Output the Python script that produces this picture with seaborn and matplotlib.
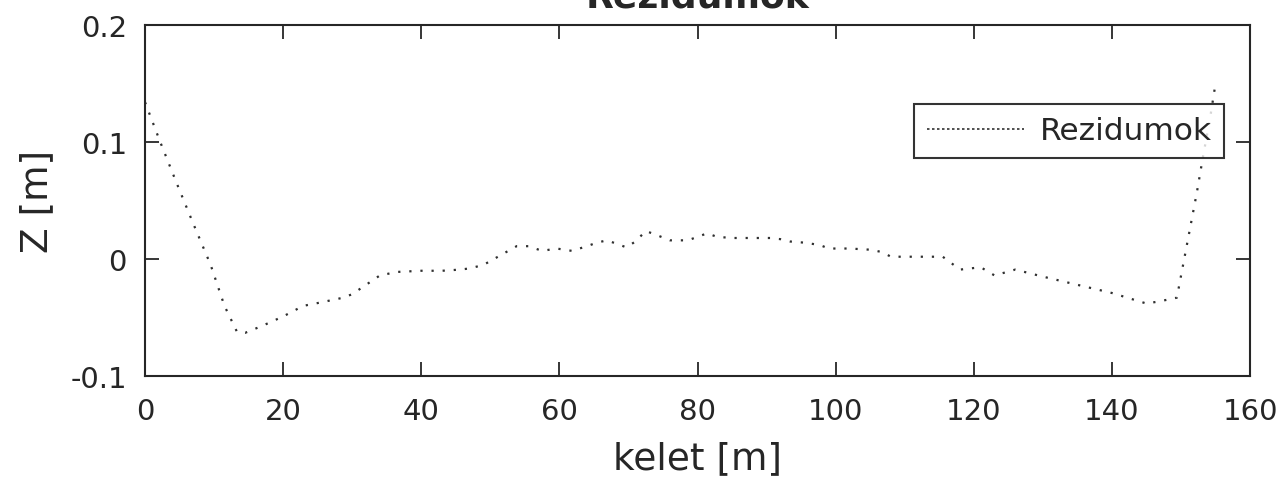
import numpy as np
import pandas as pd
import matplotlib
matplotlib.use('Agg')
import matplotlib.pyplot as plt
import seaborn as sns

# residual profile
kelet = [0, 2.2, 4.5, 7, 9.5, 11.5, 13.3, 14.5, 17, 20, 22.9, 25.5, 28.7, 30, 32,
         34, 36.5, 40, 43, 45.6, 47, 49, 51.4, 53.8, 55.5, 57.5, 59.6, 61.8,
         64, 65.4, 66.9, 68.3, 69.7, 71, 72.5, 74.3, 76, 78.6, 80, 81.4, 82.8,
         85, 88, 90.5, 92, 93.4, 95.5, 97.7, 99, 102, 105, 106.7, 108, 111,
         115.5, 118, 121, 123, 126, 130, 135, 140, 145, 147, 149.4, 150.3,
         151.3, 152.3, 153.2, 154.2, 155]
rezidum = [0.134, 0.1, 0.066, 0.03, -0.005, -0.04, -0.062, -0.063, -0.057, -0.049,
           -0.04, -0.037, -0.033, -0.03, -0.022, -0.014, -0.011, -0.01, -0.01,
           -0.009, -0.008, -0.005, 0.003, 0.011, 0.011, 0.007, 0.009, 0.007,
           0.011, 0.014, 0.016, 0.013, 0.010, 0.015, 0.024, 0.020, 0.016, 0.016,
           0.019, 0.022, 0.019, 0.018, 0.018, 0.018, 0.017, 0.015, 0.014, 0.012,
           0.009, 0.009, 0.008, 0.006, 0.002, 0.002, 0.002, -0.009, -0.007,
           -0.014, -0.009, -0.015, -0.022, -0.029, -0.038, -0.036, -0.033,
           -0.005, 0.026, 0.057, 0.088, 0.12, 0.15]

df = pd.DataFrame({'kelet': kelet, 'Rezidumok': rezidum})

sns.set_style('ticks')
plt.rcParams['font.family'] = ['DejaVu Sans']

fig = plt.figure(figsize=(12.87, 4.81), dpi=100)
ax = fig.add_axes([0.1127, 0.216, 0.8586, 0.730])

sns.lineplot(data=df, x='kelet', y='Rezidumok', ax=ax, color='#303030',
             linestyle=(0, (1, 4)), linewidth=1.6, label='Rezidumok')

ax.set_xlim(0, 160)
ax.set_ylim(-0.1, 0.2)
ax.set_xticks(np.arange(0, 161, 20))
ax.set_yticks([-0.1, 0, 0.1, 0.2])
ax.set_yticklabels(['-0.1', '0', '0.1', '0.2'])
ax.tick_params(direction='in', length=10, width=1.3, top=True, right=True,
               labelsize=21, colors='#262626')
ax.tick_params(axis='x', pad=15)
ax.tick_params(axis='y', pad=13)
for s in ax.spines.values():
    s.set_linewidth(1.5)
    s.set_color('#262626')

ax.set_xlabel('kelet [m]', fontsize=27, color='#262626', labelpad=11)
ax.set_ylabel('Z [m]', fontsize=27, color='#262626', labelpad=11)
ax.set_title('Rezidumok', fontsize=26, fontweight='bold', pad=13)

leg = ax.legend(loc='upper right', bbox_to_anchor=(0.9765, 0.775), fontsize=22.5,
                frameon=True, fancybox=False, handlelength=3.1,
                borderpad=0.4, handletextpad=0.5, borderaxespad=0)
leg.get_frame().set_edgecolor('black')
leg.get_frame().set_linewidth(1.5)
leg.get_lines()[0].set_linestyle((0, (1.5, 1.5)))
leg.get_lines()[0].set_linewidth(1.2)

fig.savefig('out.png', dpi=100)
